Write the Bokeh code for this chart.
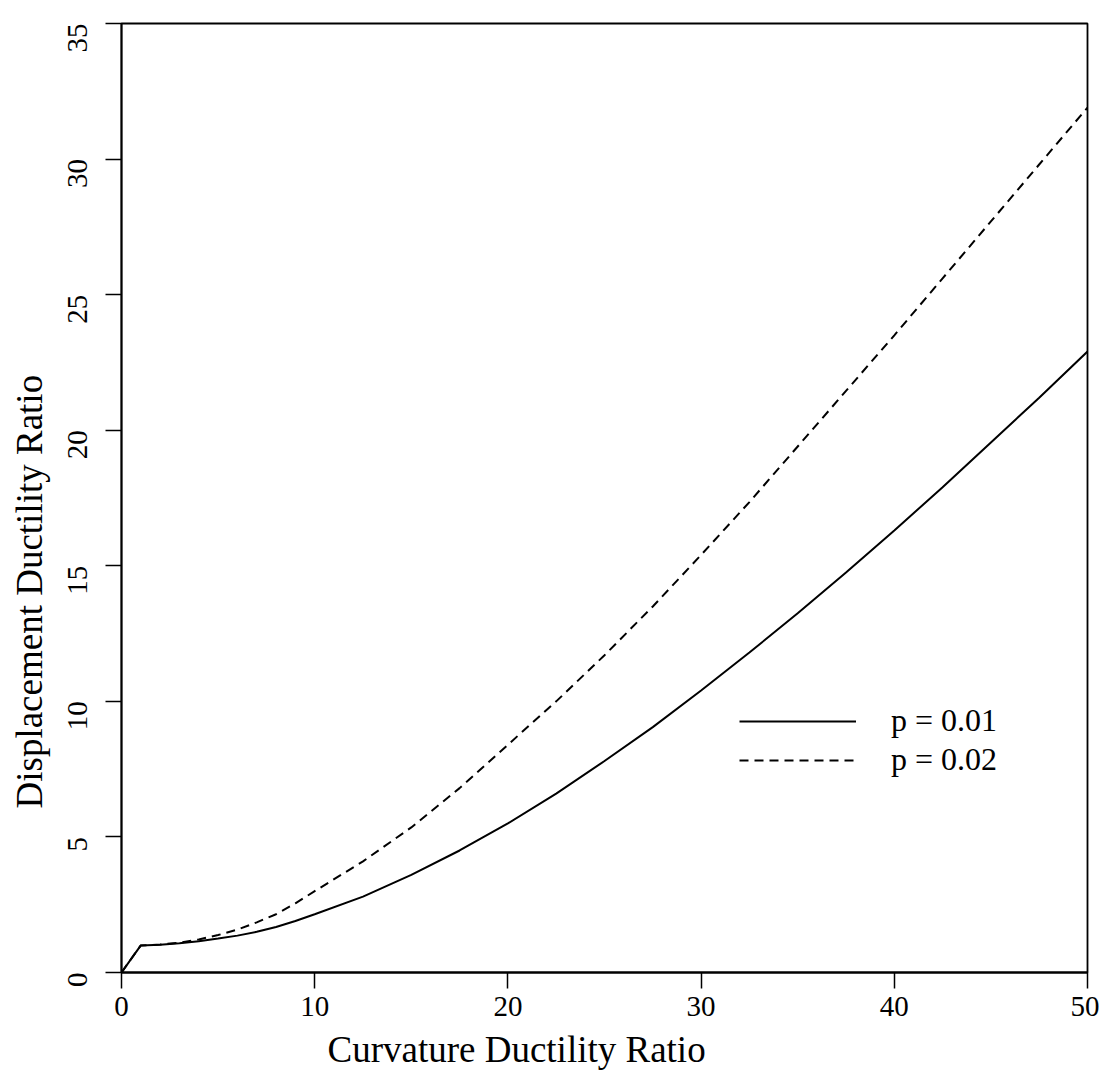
import math
from bokeh.plotting import figure
from bokeh.models import Range1d, Legend, LegendItem, FixedTicker, Title
from bokeh.embed import file_html
from bokeh.resources import INLINE

# Data
curvature = [0, 1, 2, 3, 4, 5, 6, 7, 8, 9, 10, 12.5, 15, 17.5, 20, 22.5, 25, 27.5,
             30, 32.5, 35, 37.5, 40, 42.5, 45, 47.5, 50]
disp_p001 = [0, 1.0, 1.02, 1.08, 1.15, 1.25, 1.36, 1.5, 1.68, 1.9, 2.15, 2.8, 3.6, 4.5,
             5.5, 6.6, 7.8, 9.05, 10.4, 11.8, 13.25, 14.75, 16.3, 17.9, 19.55, 21.2, 22.9]
disp_p002 = [0, 1.0, 1.03, 1.1, 1.22, 1.38, 1.58, 1.85, 2.15, 2.55, 3.0, 4.1, 5.35, 6.8,
             8.4, 10.0, 11.7, 13.5, 15.4, 17.35, 19.4, 21.45, 23.5, 25.6, 27.7, 29.8, 31.9]
series_labels = ["p = 0.01", "p = 0.02"]
x_ticks = [0, 10, 20, 30, 40, 50]
y_ticks = [0, 5, 10, 15, 20, 25, 30, 35]
x_title = "Curvature Ductility Ratio"
y_title = "Displacement Ductility Ratio"

FONT = "Liberation Serif"

p = figure(
    frame_width=966, frame_height=949,
    x_range=Range1d(0, 50), y_range=Range1d(0, 35),
    output_backend="svg", toolbar_location=None,
    min_border_left=121, min_border_top=23, min_border_right=12, min_border_bottom=90,
)
p.background_fill_color = "white"
p.border_fill_color = "white"
p.outline_line_color = "black"
p.outline_line_width = 1.8
p.xgrid.visible = False
p.ygrid.visible = False

r1 = p.line(curvature, disp_p001, line_color="black", line_width=2)
r2 = p.line(curvature, disp_p002, line_color="black", line_width=2, line_dash="9 6")

for ax in (p.xaxis[0], p.yaxis[0]):
    ax.axis_line_color = "black"
    ax.axis_line_width = 1.8
    ax.major_tick_line_color = "black"
    ax.major_tick_line_width = 1.5
    ax.major_tick_in = 0
    ax.major_tick_out = 16
    ax.minor_tick_line_color = None
    ax.major_label_text_font = FONT
    ax.major_label_text_font_size = "29px"
    ax.major_label_text_color = "black"

p.xaxis[0].ticker = FixedTicker(ticks=x_ticks)
p.yaxis[0].ticker = FixedTicker(ticks=y_ticks)
p.yaxis[0].major_label_orientation = math.pi / 2
p.xaxis[0].major_label_standoff = 8
p.yaxis[0].major_label_standoff = 28

# Axis titles, placed off-centre as in the reference
p.add_layout(Title(text=x_title, align="left", offset=206, standoff=17,
                   text_font=FONT, text_font_size="37px", text_font_style="normal",
                   text_color="black"), "below")
p.add_layout(Title(text=y_title, align="left", offset=164, standoff=12,
                   text_font=FONT, text_font_size="37px", text_font_style="normal",
                   text_color="black"), "left")

legend = Legend(
    items=[LegendItem(label=series_labels[0], renderers=[r1]),
           LegendItem(label=series_labels[1], renderers=[r2])],
    location=(618, 194),
    glyph_width=117, glyph_height=30, label_height=30,
    spacing=2, label_standoff=35, padding=10,
    label_text_font=FONT, label_text_font_size="32px", label_text_color="black",
    border_line_color=None, background_fill_alpha=0,
)
p.add_layout(legend)

open("out.html", "w").write(file_html(p, INLINE))
